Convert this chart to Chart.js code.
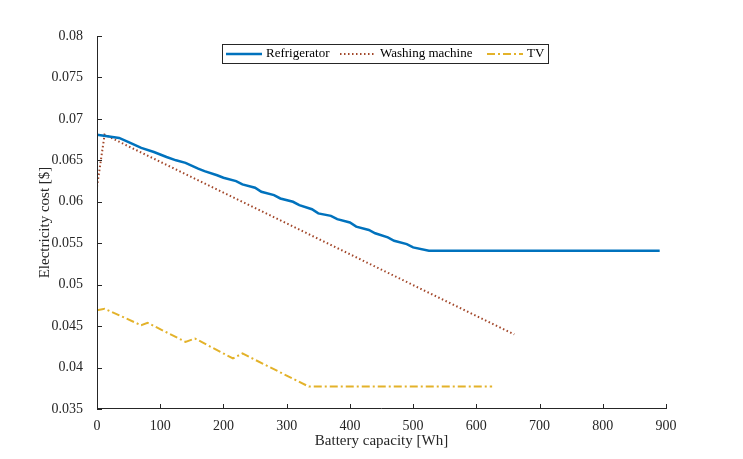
<!DOCTYPE html>
<html>
<head>
<meta charset="utf-8">
<script src="https://cdn.jsdelivr.net/npm/chart.js@4"></script>
<style>
  html, body { margin: 0; padding: 0; background: #fff; }
  #wrap { width: 743px; height: 459px; }
</style>
</head>
<body>
<div id="wrap"><canvas id="c"></canvas></div>
<script>
// battery capacity [Wh] vs electricity cost
var fridgeX = [0, 35, 50, 70, 90, 110, 125, 140, 160, 170, 190, 200, 220, 230, 250, 260, 280, 290, 310, 320, 340, 350, 370, 380, 400, 410, 430, 440, 460, 470, 490, 500, 525, 890];
var fridgeY = [0.0681, 0.0677, 0.0672, 0.0665, 0.0660, 0.0654, 0.0650, 0.0647, 0.0640, 0.0637, 0.0632, 0.0629, 0.0625, 0.0621, 0.0617, 0.0612, 0.0608, 0.0604, 0.0600, 0.0596, 0.0591, 0.0586, 0.0583, 0.0579, 0.0575, 0.0570, 0.0566, 0.0562, 0.0557, 0.0553, 0.0549, 0.0545, 0.0541, 0.0541];
var washX = [0, 12, 660];
var washY = [0.0618, 0.0681, 0.0440];
var tvX = [0, 12, 70, 80, 140, 155, 215, 230, 335, 625];
var tvY = [0.0469, 0.0471, 0.0451, 0.0454, 0.0431, 0.0435, 0.0411, 0.0417, 0.0377, 0.0377];
var seriesNames = ["Refrigerator", "Washing machine", "TV"];
var xTicks = [0, 100, 200, 300, 400, 500, 600, 700, 800, 900];
var yTicks = [0.035, 0.04, 0.045, 0.05, 0.055, 0.06, 0.065, 0.07, 0.075, 0.08];

var FONT = "'Liberation Serif', 'DejaVu Serif', serif";

function pts(xs, ys) {
  return xs.map(function (x, i) { return { x: x, y: ys[i] }; });
}

var styles = [
  { color: "#0072BD", width: 2.5, dash: [] },
  { color: "#A2472A", width: 2, dash: [1.5, 2.5] },
  { color: "#E3B22A", width: 2, dash: [8, 3, 2, 3] }
];

var sets = [pts(fridgeX, fridgeY), pts(washX, washY), pts(tvX, tvY)];

var decor = {
  id: "decor",
  afterDraw: function (chart) {
    var ctx = chart.ctx, xs = chart.scales.x, ys = chart.scales.y, a = chart.chartArea;
    ctx.save();
    ctx.strokeStyle = "#262626";
    ctx.lineWidth = 1;
    ctx.beginPath();
    ctx.moveTo(a.left + 0.5, a.top); ctx.lineTo(a.left + 0.5, a.bottom - 0.5); ctx.lineTo(a.right, a.bottom - 0.5);
    xTicks.forEach(function (t) {
      var p = Math.round(xs.getPixelForValue(t)) + 0.5;
      ctx.moveTo(p, a.bottom); ctx.lineTo(p, a.bottom - 5);
    });
    yTicks.forEach(function (t) {
      var p = Math.round(ys.getPixelForValue(t)) + 0.5;
      ctx.moveTo(a.left, p); ctx.lineTo(a.left + 5, p);
    });
    ctx.stroke();

    // legend box
    var bx = 222, by = 44, bw = 326, bh = 19;
    ctx.fillStyle = "#fff";
    ctx.fillRect(bx, by, bw, bh);
    ctx.strokeStyle = "#262626";
    ctx.strokeRect(bx + 0.5, by + 0.5, bw, bh);
    ctx.font = "13px " + FONT;
    ctx.textBaseline = "middle";
    var xs0 = [226, 340, 487];
    for (var i = 0; i < 3; i++) {
      var s = styles[i];
      ctx.strokeStyle = s.color;
      ctx.lineWidth = s.width;
      ctx.setLineDash(s.dash);
      ctx.beginPath();
      ctx.moveTo(xs0[i], by + 10); ctx.lineTo(xs0[i] + 36, by + 10);
      ctx.stroke();
      ctx.setLineDash([]);
      ctx.fillStyle = "#000";
      ctx.fillText(seriesNames[i], xs0[i] + 40, by + 10);
    }
    ctx.restore();
  }
};

new Chart(document.getElementById("c"), {
  type: "scatter",
  data: {
    datasets: sets.map(function (d, i) {
      return {
        label: seriesNames[i], data: d, showLine: true, pointRadius: 0,
        borderColor: styles[i].color, borderWidth: styles[i].width,
        borderDash: styles[i].dash, fill: false, tension: 0
      };
    })
  },
  options: {
    responsive: true, maintainAspectRatio: false, animation: false,
    layout: { padding: { top: 36, right: 77, left: 36, bottom: 9 } },
    plugins: { legend: { display: false }, tooltip: { enabled: false } },
    scales: {
      x: {
        type: "linear", min: 0, max: 900,
        afterBuildTicks: function (s) { s.ticks = xTicks.map(function (v) { return { value: v }; }); },
        afterFit: function (s) { s.height = 41; },
        grid: { display: false }, border: { display: false },
        ticks: { color: "#262626", font: { family: FONT, size: 14 }, padding: 1 },
        title: { display: true, text: "Battery capacity [Wh]", color: "#262626", font: { family: FONT, size: 15 }, padding: 0 }
      },
      y: {
        min: 0.035, max: 0.08,
        afterBuildTicks: function (s) { s.ticks = yTicks.map(function (v) { return { value: v }; }); },
        afterFit: function (s) { s.width = 61; },
        grid: { display: false }, border: { display: false },
        ticks: {
          color: "#262626", font: { family: FONT, size: 14 }, padding: 6,
          callback: function (v) { return String(parseFloat(v.toFixed(3))); }
        },
        title: { display: true, text: "Electricity cost [$]", color: "#262626", font: { family: FONT, size: 15 }, padding: 0 }
      }
    }
  },
  plugins: [decor]
});
</script>
</body>
</html>
